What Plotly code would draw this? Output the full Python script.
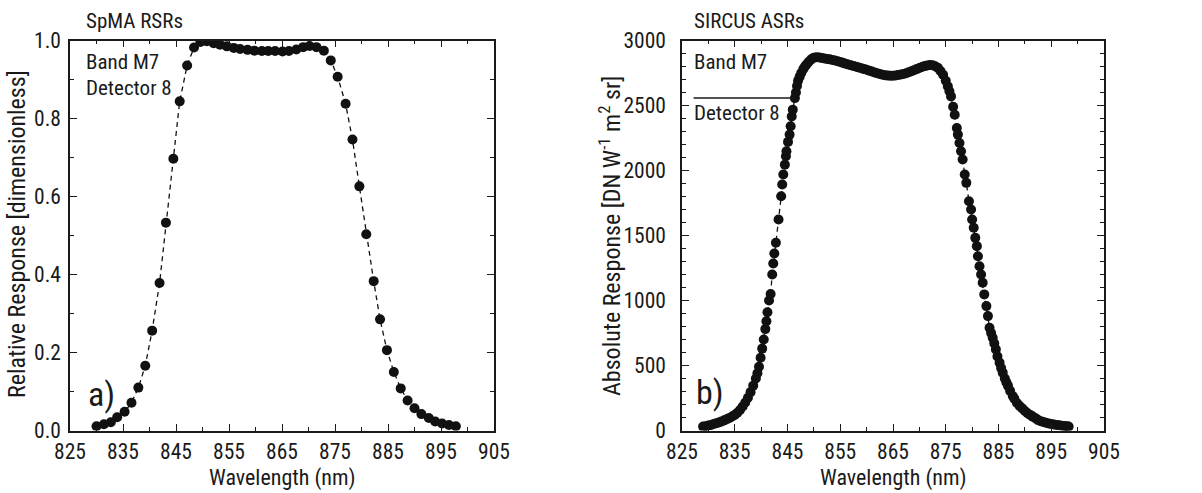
import plotly.graph_objects as go
from plotly.subplots import make_subplots

# ---------------- data ----------------
spma_wavelength = [830.0, 831.4, 832.7, 833.9, 835.3, 836.6, 837.9, 839.2, 840.5, 841.9,
                   843.1, 844.5, 845.7, 847.1, 848.4, 849.6, 850.8, 852.1, 853.3, 854.6,
                   855.9, 857.1, 858.5, 859.8, 861.2, 862.4, 863.7, 865.1, 866.3, 867.7,
                   869.0, 870.2, 871.5, 872.9, 874.2, 875.5, 877.0, 878.3, 879.6, 880.9,
                   882.3, 883.5, 884.8, 886.1, 887.4, 888.7, 890.0, 891.3, 892.7, 893.9,
                   895.2, 896.5, 897.8]
spma_rsr = [0.011, 0.016, 0.021, 0.034, 0.048, 0.071, 0.110, 0.166, 0.256, 0.378,
            0.533, 0.697, 0.844, 0.936, 0.982, 0.996, 0.998, 0.993, 0.989, 0.985,
            0.981, 0.978, 0.976, 0.974, 0.973, 0.973, 0.973, 0.972, 0.973, 0.977,
            0.983, 0.986, 0.983, 0.974, 0.949, 0.907, 0.838, 0.746, 0.626, 0.503,
            0.383, 0.285, 0.206, 0.150, 0.108, 0.077, 0.057, 0.042, 0.032, 0.023,
            0.018, 0.014, 0.011]

sircus_wavelength = [829.0, 829.5, 830.0, 830.5, 831.0, 831.5, 832.0, 832.5, 833.0, 833.5,
                     834.0, 834.5, 835.0, 835.5, 836.0, 836.5, 837.0, 837.5, 838.0, 838.5,
                     839.0, 839.3, 839.6, 839.9, 840.2, 840.5, 840.8, 841.0, 841.2, 841.5,
                     841.8, 842.1, 842.3, 842.5, 842.8, 843.3, 843.8, 844.0, 844.2, 844.5,
                     844.7, 844.8, 845.1, 845.4, 845.6, 845.8, 846.0, 846.4, 846.6, 846.8,
                     847.0, 847.3, 847.6, 848.0, 848.3, 848.6, 849.0, 849.5, 850.0, 850.5,
                     851.0, 851.5, 852.0, 852.5, 853.0, 853.5, 854.0, 854.5, 855.0, 855.5,
                     856.0, 856.5, 857.0, 857.5, 858.0, 858.5, 859.0, 859.5, 860.0, 860.5,
                     861.0, 861.5, 862.0, 862.5, 863.0, 863.5, 864.0, 864.5, 865.0, 865.5,
                     866.0, 866.5, 867.0, 867.5, 868.0, 868.5, 869.0, 869.5, 870.0, 870.5,
                     871.0, 871.5, 872.0, 872.5, 873.0, 873.5, 874.0, 874.5, 875.0, 875.4,
                     875.7, 876.0, 876.4, 876.7, 877.1, 877.3, 877.6, 877.9, 878.2, 878.6,
                     878.9, 879.4, 879.8, 880.0, 880.3, 880.6, 880.9, 881.1, 881.4, 881.7,
                     882.0, 882.3, 882.7, 883.0, 883.3, 883.6, 883.9, 884.2, 884.5, 884.8,
                     885.2, 885.5, 885.8, 886.2, 886.5, 886.8, 887.2, 887.7, 888.0, 888.5,
                     889.0, 889.5, 890.0, 890.5, 891.0, 891.5, 892.0, 892.5, 893.0, 893.5,
                     894.0, 894.5, 895.0, 895.5, 896.0, 896.5, 897.0, 897.5, 898.0, 898.3]
sircus_asr = [30, 33, 38, 42, 50, 56, 62, 70, 78, 87,
              97, 108, 120, 137, 158, 185, 215, 252, 295, 345,
              400, 440, 490, 560, 630, 700, 780, 840, 910, 1000,
              1050, 1200, 1285, 1362, 1444, 1623, 1802, 1892, 1969, 2045,
              2110, 2148, 2220, 2276, 2340, 2416, 2468, 2557, 2600, 2650,
              2690, 2720, 2750, 2780, 2800, 2815, 2835, 2855, 2868, 2872,
              2870, 2866, 2862, 2858, 2855, 2850, 2846, 2840, 2834, 2828,
              2822, 2816, 2810, 2804, 2798, 2792, 2786, 2780, 2775, 2768,
              2761, 2754, 2748, 2742, 2737, 2733, 2730, 2729, 2729, 2731,
              2734, 2738, 2742, 2748, 2756, 2764, 2772, 2780, 2788, 2796,
              2803, 2808, 2812, 2810, 2802, 2790, 2766, 2737, 2690, 2647,
              2610, 2570, 2490, 2429, 2327, 2276, 2212, 2148, 2084, 1969,
              1905, 1764, 1700, 1623, 1560, 1482, 1418, 1341, 1264, 1200,
              1137, 1047, 957, 880, 791, 750, 714, 670, 624, 570,
              522, 480, 445, 400, 370, 343, 305, 266, 245, 212,
              189, 170, 150, 133, 120, 107, 95, 80, 72, 65,
              59, 54, 50, 47, 43, 40, 37, 34, 32, 30]

x_tick_values = [825, 835, 845, 855, 865, 875, 885, 895, 905]
left_y_ticks = [0.0, 0.2, 0.4, 0.6, 0.8, 1.0]
right_y_ticks = [0, 500, 1000, 1500, 2000, 2500, 3000]

# ---------------- figure ----------------
W, H = 1202, 493
FONT = "Roboto Condensed, Liberation Sans Narrow, DejaVu Sans Condensed, Liberation Sans, sans-serif"
INK = "#1a1a1a"

fig = make_subplots(rows=1, cols=2)

marker = dict(size=10, color="#111111")
line = dict(color="#111111", width=1.3, dash="5px,4px")

fig.add_trace(go.Scatter(x=spma_wavelength, y=spma_rsr, mode="lines+markers",
                         marker=marker, line=line, showlegend=False), row=1, col=1)
fig.add_trace(go.Scatter(x=sircus_wavelength, y=sircus_asr, mode="lines+markers",
                         marker=marker, line=line, showlegend=False), row=1, col=2)

def px(x):
    return x / W

def py(y):
    return 1 - y / H

ydom = [py(430.5), py(40.5)]

axis_common = dict(
    showline=True, linecolor=INK, linewidth=1.5, mirror="allticks",
    ticks="inside", ticklen=7, tickwidth=1.3, tickcolor=INK,
    showgrid=False, zeroline=False, automargin=False,
    tickfont=dict(family=FONT, size=21.5, color=INK),
)

fig.update_xaxes(range=[825, 905], tickvals=x_tick_values, ticklabelstandoff=1,
                 minor=dict(dtick=5, tick0=825, ticks="inside", ticklen=4, tickcolor=INK, tickwidth=1.3),
                 **axis_common)
fig.update_xaxes(domain=[px(70), px(494)], row=1, col=1)
fig.update_xaxes(domain=[px(682), px(1104)], row=1, col=2)

fig.update_yaxes(domain=ydom, **axis_common)
fig.update_yaxes(range=[0, 1.0], tickvals=left_y_ticks, tickformat=".1f", ticklabelstandoff=3,
                 minor=dict(dtick=0.1, tick0=0, ticks="inside", ticklen=4, tickcolor=INK, tickwidth=1.3),
                 row=1, col=1)
fig.update_yaxes(range=[0, 3000], tickvals=right_y_ticks, ticklabelstandoff=10,
                 minor=dict(dtick=100, tick0=0, ticks="inside", ticklen=4, tickcolor=INK, tickwidth=1.3),
                 row=1, col=2)

# leader line under "Band M7" in panel b
fig.add_shape(type="line", xref="x2", yref="y2", x0=827.2, x1=846.4, y0=2557, y1=2557,
              line=dict(color=INK, width=1.5))

ann = []
def text(x, y, s, size=21, xanchor="left", yanchor="middle", angle=0):
    ann.append(dict(x=px(x), y=py(y), xref="paper", yref="paper", text=s, showarrow=False,
                    xanchor=xanchor, yanchor=yanchor, textangle=angle,
                    font=dict(family=FONT, size=size, color=INK)))

text(84, 21, "SpMA RSRs", 21)
text(692, 21, "SIRCUS ASRs", 21)
text(84, 62, "Band M7", 21)
text(84, 88, "Detector 8", 21)
text(692, 62, "Band M7", 21)
text(692, 113, "Detector 8", 21)
text(86, 394, "a)", 34)
text(694, 392, "b)", 34)
text(282, 493, "Wavelength (nm)", 22, xanchor="center", yanchor="bottom")
text(893, 493, "Wavelength (nm)", 22, xanchor="center", yanchor="bottom")
text(17, 234, "Relative Response [dimensionless]", 24, xanchor="center", angle=-90)
text(610, 236, "Absolute Response [DN W<sup>-1</sup> m<sup>2</sup> sr]", 24, xanchor="center", angle=-90)

fig.update_layout(
    width=W, height=H, margin=dict(l=0, r=0, t=0, b=0),
    paper_bgcolor="white", plot_bgcolor="white",
    annotations=ann, showlegend=False,
)

fig.write_html("out.html")
